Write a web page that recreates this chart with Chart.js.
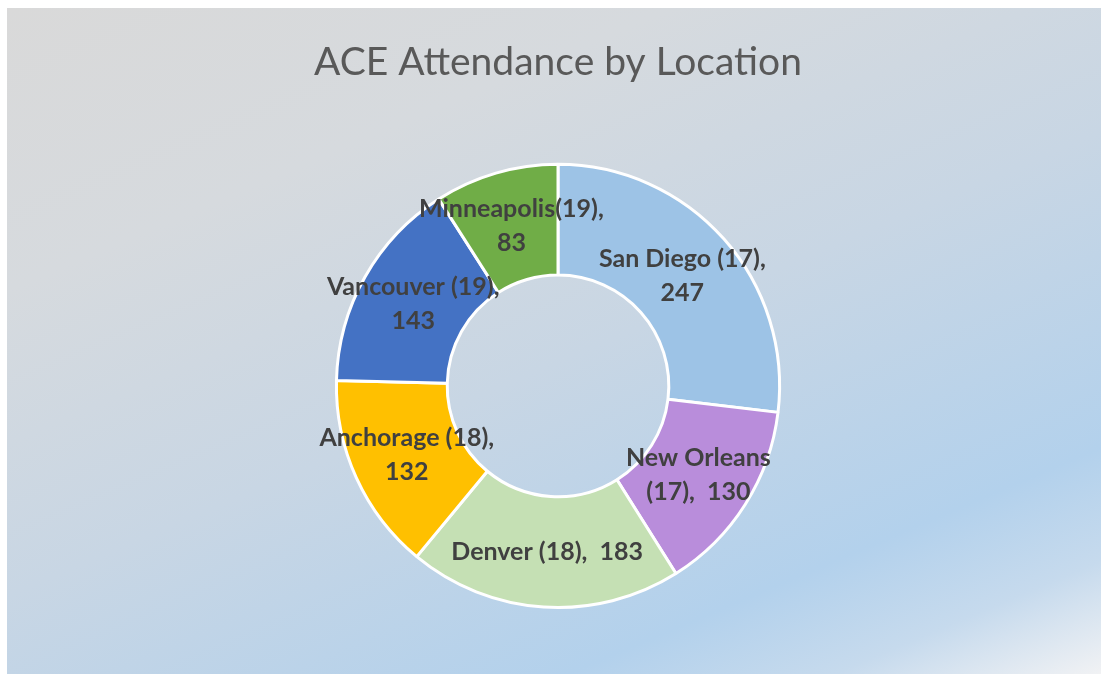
<!DOCTYPE html>
<html>
<head>
<title>ACE Attendance by Location</title>
<style>
  body { margin: 0; background: #ffffff; }
  #frame {
    position: absolute; left: 7px; top: 8px; width: 1094px; height: 666px;
    background: linear-gradient(157deg, #d9d9d9 0%, #d6dade 25%, #c8d6e4 52%, #b3d1ec 80%, #c6daed 90%, #f1f2f4 100%);
  }
</style>
</head>
<body>
<div id="frame">
  <canvas id="myChart" width="1094" height="666"></canvas>
</div>

<script src="https://cdn.jsdelivr.net/npm/chart.js"></script>
<script>
const locations = ['San Diego', 'New Orleans', 'Denver', 'Anchorage', 'Vancouver', 'Minneapolis'];
const sessions = [17, 17, 18, 18, 19, 19];
const attendance = [247, 130, 183, 132, 143, 83];
const sliceColors = ['#9dc3e6', '#b98ddb', '#c5e0b4', '#ffc000', '#4472c4', '#70ad47'];
// how the labels break in the picture
const labelLines = [
  ['San Diego (17),', '247'],
  ['New Orleans', '(17),  130'],
  ['Denver (18),  183'],
  ['Anchorage (18),', '132'],
  ['Vancouver (19),', '143'],
  ['Minneapolis(19),', '83']
];

const sliceLabels = {
  id: 'sliceLabels',
  afterDatasetsDraw(chart) {
    const ctx = chart.ctx;
    const meta = chart.getDatasetMeta(0);
    ctx.save();
    ctx.font = 'bold 25px Lato';
    ctx.fillStyle = '#404040';
    ctx.textAlign = 'center';
    ctx.textBaseline = 'middle';
    const lh = 34;
    meta.data.forEach((arc, i) => {
      const p = arc.tooltipPosition();
      const lines = labelLines[i];
      const y0 = p.y - (lines.length - 1) * lh / 2;
      lines.forEach((t, j) => ctx.fillText(t, p.x, y0 + j * lh));
    });
    ctx.restore();
  }
};

new Chart(document.getElementById('myChart'), {
  type: 'doughnut',
  data: {
    labels: locations.map((l, i) => l + ' (' + sessions[i] + ')'),
    datasets: [{
      data: attendance,
      backgroundColor: sliceColors,
      borderColor: '#ffffff',
      borderWidth: 3
    }]
  },
  options: {
    responsive: false,
    animation: false,
    cutout: '50%',
    layout: { padding: { left: 8, bottom: 65 } },
    plugins: {
      legend: { display: false },
      tooltip: { enabled: false },
      title: {
        display: true,
        text: 'ACE Attendance by Location',
        color: '#595959',
        font: { family: 'Lato', size: 39, weight: 'normal', lineHeight: 1.2 },
        padding: { top: 31, bottom: 77 }
      }
    }
  },
  plugins: [sliceLabels]
});
</script>
</body>
</html>
